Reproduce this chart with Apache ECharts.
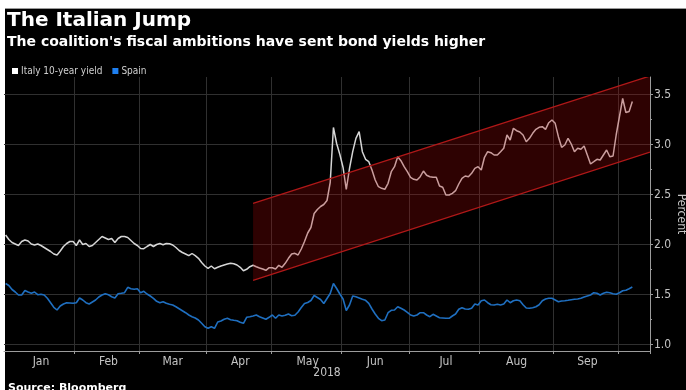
<!DOCTYPE html>
<html><head><meta charset="utf-8">
<script src="https://cdn.jsdelivr.net/npm/echarts@6/dist/echarts.min.js"></script>
<style>
html,body{margin:0;padding:0;background:#fff;}
#bg{position:absolute;left:5px;top:8px;width:681px;height:382px;background:#000;border-top:1px solid #9a9a9a;box-sizing:border-box;}
#chart{position:absolute;left:0;top:0;width:686px;height:390px;}
</style></head><body>
<div id="bg"></div><div id="chart"></div>
<script>
const titleText = 'The Italian Jump';
const subtitleText = "The coalition's fiscal ambitions have sent bond yields higher";
const sourceText = 'Source: Bloomberg';
const seriesNames = ['Italy 10-year yield', 'Spain'];
const axisYearLabel = '2018';
const axisUnitLabel = 'Percent';
const startDate = '2018-01-02';
const endDate = '2018-10-12';
const holidays = ['2018-01-01', '2018-03-30', '2018-04-02', '2018-05-01'];
const monthLabels = ['Jan', 'Feb', 'Mar', 'Apr', 'May', 'Jun', 'Jul', 'Aug', 'Sep'];
const yTicks = [1.0, 1.5, 2.0, 2.5, 3.0, 3.5];
const yMinorTicks = [1.25, 1.75, 2.25, 2.75, 3.25];
const yMin = 0.935, yMax = 3.675;

const italy = [
2.095,2.05,2.02,2.005,1.99,2.03,2.045,2.035,2.005,1.995,
2.005,1.99,1.97,1.95,1.93,1.905,1.895,1.935,1.98,2.01,
2.03,2.03,1.99,2.045,2.0,2.01,1.98,1.99,2.02,2.05,
2.08,2.065,2.05,2.06,2.02,2.06,2.08,2.08,2.07,2.04,
2.01,1.99,1.96,1.958,1.98,2.0,1.98,2.0,2.01,1.998,
2.01,2.008,1.995,1.97,1.94,1.92,1.905,1.888,1.91,1.888,
1.862,1.82,1.785,1.762,1.785,1.758,1.772,1.785,1.795,1.805,
1.812,1.808,1.795,1.772,1.738,1.752,1.778,1.792,1.778,1.765,
1.755,1.742,1.768,1.768,1.755,1.792,1.772,1.812,1.862,1.905,
1.912,1.895,1.955,2.03,2.115,2.17,2.31,2.35,2.38,2.40,
2.44,2.62,3.17,3.01,2.9,2.77,2.55,2.76,2.928,3.062,
3.128,2.928,2.852,2.828,2.745,2.645,2.578,2.562,2.552,2.612,
2.728,2.778,2.878,2.838,2.778,2.728,2.672,2.652,2.645,2.678,
2.735,2.692,2.678,2.672,2.672,2.585,2.572,2.495,2.495,2.512,
2.538,2.605,2.662,2.685,2.678,2.712,2.762,2.778,2.745,2.872,
2.928,2.918,2.895,2.895,2.928,2.962,3.095,3.045,3.162,3.138,
3.125,3.095,3.028,3.062,3.112,3.152,3.172,3.178,3.152,3.218,
3.245,3.212,3.078,2.972,2.995,3.062,3.005,2.928,2.962,2.952,
2.985,2.895,2.805,2.828,2.852,2.845,2.895,2.945,2.878,2.885,
3.10,3.28,3.46,3.32,3.33,3.43
];
const spain = [
1.61,1.59,1.55,1.525,1.495,1.495,1.54,1.525,1.512,1.525,
1.498,1.502,1.495,1.462,1.418,1.372,1.345,1.385,1.405,1.418,
1.415,1.412,1.418,1.465,1.445,1.418,1.405,1.425,1.445,1.475,
1.495,1.508,1.498,1.478,1.465,1.508,1.512,1.518,1.572,1.558,
1.552,1.558,1.518,1.532,1.505,1.485,1.462,1.432,1.418,1.428,
1.412,1.402,1.395,1.378,1.358,1.338,1.318,1.295,1.278,1.265,
1.245,1.212,1.178,1.162,1.178,1.162,1.225,1.235,1.252,1.262,
1.248,1.242,1.238,1.222,1.212,1.272,1.278,1.285,1.295,1.278,
1.265,1.252,1.272,1.295,1.262,1.295,1.285,1.292,1.305,1.288,
1.292,1.325,1.37,1.41,1.42,1.44,1.49,1.47,1.45,1.41,
1.46,1.51,1.61,1.56,1.505,1.455,1.34,1.395,1.485,1.478,
1.465,1.452,1.442,1.412,1.355,1.305,1.262,1.238,1.245,1.318,
1.342,1.345,1.378,1.362,1.345,1.322,1.295,1.285,1.295,1.318,
1.318,1.295,1.278,1.302,1.285,1.268,1.265,1.262,1.262,1.285,
1.305,1.352,1.368,1.355,1.352,1.362,1.405,1.395,1.438,1.445,
1.418,1.398,1.395,1.402,1.395,1.405,1.445,1.418,1.438,1.445,
1.438,1.398,1.365,1.362,1.368,1.378,1.398,1.438,1.455,1.462,
1.462,1.445,1.428,1.435,1.438,1.442,1.448,1.452,1.455,1.462,
1.475,1.485,1.495,1.518,1.512,1.495,1.512,1.522,1.518,1.508,
1.502,1.518,1.538,1.542,1.558,1.575
];
// trend channel drawn over the chart
const bandStart = '2018-04-23';
const bandEnd = '2018-10-12';
const bandLower = [1.642, 2.918];
const bandUpper = [2.412, 3.68];

// business-day categories
const dates = [];
(function () {
  const hs = new Set(holidays);
  const d = new Date(startDate + 'T00:00:00Z');
  const e = new Date(endDate + 'T00:00:00Z');
  while (d <= e) {
    const wd = d.getUTCDay();
    const s = d.toISOString().slice(0, 10);
    if (wd !== 0 && wd !== 6 && !hs.has(s)) dates.push(s);
    d.setUTCDate(d.getUTCDate() + 1);
  }
})();
const monthStart = new Set();
const labelMap = new Map();
(function () {
  const groups = {};
  dates.forEach((s, i) => {
    const m = +s.slice(5, 7) - 1;
    if (!groups[m]) groups[m] = [i, i];
    groups[m][1] = i;
  });
  Object.keys(groups).forEach(k => {
    const g = groups[k];
    if (g[0] > 0) monthStart.add(g[0]);
    if (+k < monthLabels.length) {
      const b = (g[0] + g[1] + 1) / 2;
      labelMap.set(Math.round(b - 0.5), monthLabels[+k]);
    }
  });
})();

const chart = echarts.init(document.getElementById('chart'), null, {renderer: 'canvas'});
const axisCol = '#9c9c9c';
const labelCol = '#c4c4c4';
const condensed = '"DejaVu Sans Condensed", "DejaVu Sans", sans-serif';
const bandStartIdx = dates.indexOf(bandStart);
const bandEndIdx = dates.indexOf(bandEnd);

chart.setOption({
  animation: false,
  backgroundColor: 'transparent',
  graphic: [
    {type: 'text', left: 7, top: 11, style: {text: titleText, fill: '#fff', font: 'bold 20px "DejaVu Sans", sans-serif'}},
    {type: 'text', left: 7, top: 35, style: {text: subtitleText, fill: '#fff', font: 'bold 14px "DejaVu Sans", sans-serif'}},
    {type: 'text', left: 8, top: 383, style: {text: sourceText, fill: '#fff', font: 'bold 11px "DejaVu Sans", sans-serif'}}
  ],
  legend: {
    data: seriesNames, left: 7, top: 61, icon: 'rect', itemWidth: 6, itemHeight: 6, itemGap: 10,
    textStyle: {color: '#cfcfcf', fontSize: 10, fontFamily: condensed, padding: [0, 0, 0, -2]}
  },
  grid: {left: 4, right: 36, top: 77, bottom: 39, containLabel: false, outerBoundsMode: 'none'},
  xAxis: {
    type: 'category', data: dates, boundaryGap: true,
    axisLine: {show: true, lineStyle: {color: axisCol, width: 1}},
    axisTick: {show: true, interval: (i) => monthStart.has(i), length: 3, lineStyle: {color: axisCol}},
    axisLabel: {interval: (i) => labelMap.has(i), formatter: (v, i) => labelMap.get(i) || '', color: labelCol, fontSize: 12, fontFamily: condensed, margin: 5},
    splitLine: {show: true, interval: (i) => monthStart.has(i), lineStyle: {color: '#303030', width: 1}},
    name: axisYearLabel, nameLocation: 'middle', nameGap: 16, nameMoveOverlap: false,
    nameTextStyle: {color: labelCol, fontSize: 12, fontFamily: condensed, verticalAlign: 'top'}
  },
  yAxis: [{
    type: 'value', position: 'right', min: yMin, max: yMax,
    axisLine: {show: true, lineStyle: {color: axisCol, width: 1}},
    axisTick: {show: true, length: 3, customValues: yTicks, lineStyle: {color: axisCol}},
    axisLabel: {customValues: yTicks, formatter: (v) => v.toFixed(1), color: labelCol, fontSize: 12, fontFamily: condensed, margin: 4},
    splitLine: {show: true, lineStyle: {color: '#303030', width: 1}},
    name: axisUnitLabel, nameLocation: 'middle', nameRotate: -90, nameGap: 25, nameMoveOverlap: false,
    nameTextStyle: {color: labelCol, fontSize: 12, fontFamily: condensed}
  }, {
    type: 'value', position: 'right', min: yMin, max: yMax,
    axisLine: {show: false},
    axisTick: {show: true, length: 2, customValues: yMinorTicks, lineStyle: {color: axisCol}},
    axisLabel: {show: false},
    splitLine: {show: false}
  }],
  series: [{
    name: seriesNames[0], type: 'line', data: italy, showSymbol: false, symbol: 'none',
    lineStyle: {color: '#d6d6d6', width: 1.5}, itemStyle: {color: '#ffffff'}, z: 2
  }, {
    name: seriesNames[1], type: 'line', data: spain, showSymbol: false, symbol: 'none',
    lineStyle: {color: '#1f6fc0', width: 1.6}, itemStyle: {color: '#1e7ff0'}, z: 2
  }, {
    type: 'custom', silent: true, z: 5,
    data: [[bandStartIdx, bandLower[0]]],
    renderItem: function (params, api) {
      const half = api.size([1, 0])[0] / 2;
      const a = api.coord([bandStartIdx, bandLower[0]]);
      const b = api.coord([bandEndIdx, bandLower[1]]);
      const c = api.coord([bandStartIdx, bandUpper[0]]);
      const d = api.coord([bandEndIdx, bandUpper[1]]);
      const ext = (p, q) => [q[0] + half, q[1] + (q[1] - p[1]) / (q[0] - p[0]) * half];
      const b2 = ext(a, b), d2 = ext(c, d);
      const cs = params.coordSys;
      return {
        type: 'group',
        clipPath: {type: 'rect', shape: {x: cs.x, y: cs.y, width: cs.width, height: cs.height}},
        children: [
          {type: 'polygon', shape: {points: [a, b2, d2, c]}, style: {fill: 'rgba(170,8,8,0.27)'}},
          {type: 'polyline', shape: {points: [a, b2]}, style: {stroke: '#b01818', lineWidth: 1.3, fill: null}},
          {type: 'polyline', shape: {points: [c, d2]}, style: {stroke: '#b01818', lineWidth: 1.3, fill: null}}
        ]
      };
    }
  }]
});
</script>
</body></html>
